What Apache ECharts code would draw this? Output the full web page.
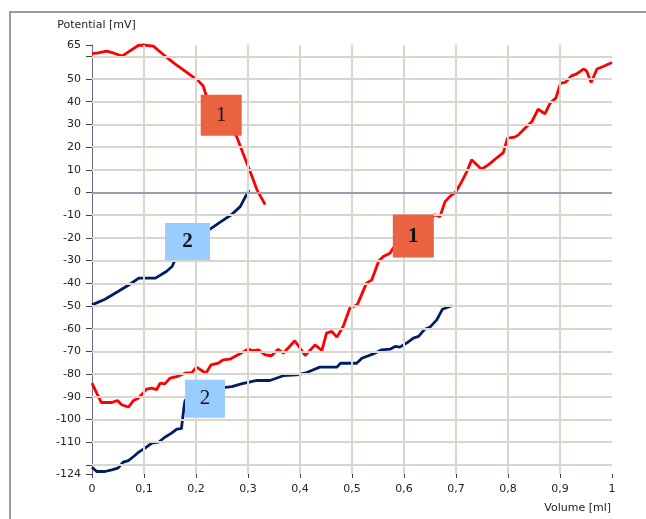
<!DOCTYPE html>
<html>
<head>
<meta charset="utf-8">
<title>Potential vs Volume</title>
<script src="https://cdn.jsdelivr.net/npm/echarts@6/dist/echarts.min.js"></script>
<style>
  html, body { margin: 0; padding: 0; background: #ffffff; }
  #chart { width: 646px; height: 519px; }
</style>
</head>
<body>
<div id="chart"></div>
<script>
// Titration curves: potential [mV] against added volume [ml]

// Axis ticks
const xTicks = [0, 0.1, 0.2, 0.3, 0.4, 0.5, 0.6, 0.7, 0.8, 0.9, 1];
const yTickValues = [-124, -120, -110, -100, -90, -80, -70, -60, -50, -40, -30, -20, -10, 0, 10, 20, 30, 40, 50, 60, 65];
const yLabelValues = [-124, -110, -100, -90, -80, -70, -60, -50, -40, -30, -20, -10, 0, 10, 20, 30, 40, 50, 65];
const yGridValues = [-120, -110, -100, -90, -80, -70, -60, -50, -40, -30, -20, -10, 10, 20, 30, 40, 50, 60];
const xGridValues = [0.1, 0.2, 0.3, 0.4, 0.5, 0.6, 0.7, 0.8, 0.9];

// Curve 1, upper run (red)
const red1X = [0, 0.012, 0.028, 0.041, 0.058, 0.07, 0.089, 0.099, 0.118, 0.137, 0.157, 0.179, 0.204, 0.214, 0.219, 0.245, 0.278, 0.29, 0.304, 0.317, 0.333];
const red1Y = [61.2, 61.5, 62.3, 61.5, 60.1, 62, 64.8, 65, 64.5, 60.8, 57.1, 53.5, 49.3, 46.9, 43.2, 33, 24.8, 17.5, 9.4, 1.3, -5.3];

// Curve 2, upper run (navy)
const blue1X = [0, 0.025, 0.05, 0.073, 0.09, 0.122, 0.143, 0.154, 0.16, 0.19, 0.227, 0.248, 0.268, 0.285, 0.302];
const blue1Y = [-49.5, -47, -43.6, -40.4, -37.7, -37.7, -34.8, -32.6, -29.6, -22, -16.1, -12.8, -9.8, -6.2, 1.2];

// Curve 1, lower run (red)
const red2X = [0, 0.009, 0.018, 0.038, 0.049, 0.057, 0.07, 0.08, 0.089, 0.105, 0.115, 0.124, 0.131, 0.14, 0.15, 0.163, 0.179, 0.192, 0.201, 0.211, 0.219, 0.229, 0.243, 0.252, 0.265, 0.281, 0.3, 0.31, 0.32, 0.333, 0.345, 0.358, 0.368, 0.39, 0.41, 0.429, 0.442, 0.451, 0.461, 0.471, 0.483, 0.496, 0.51, 0.528, 0.538, 0.551, 0.56, 0.573, 0.579, 0.61, 0.66, 0.669, 0.679, 0.688, 0.7, 0.711, 0.721, 0.73, 0.749, 0.762, 0.778, 0.791, 0.799, 0.813, 0.82, 0.833, 0.846, 0.858, 0.871, 0.881, 0.892, 0.901, 0.91, 0.922, 0.932, 0.945, 0.951, 0.96, 0.971, 0.983, 1];
const red2Y = [-84, -88.4, -92.5, -92.5, -91.6, -93.5, -94.5, -91.6, -90.6, -86.6, -86.2, -86.9, -84, -84.3, -81.8, -81.1, -79.6, -79.3, -76.9, -78.4, -79.6, -75.9, -75.2, -73.7, -73.4, -71.5, -69, -69.7, -69.3, -71.5, -71.9, -69.1, -70.8, -65.3, -71.8, -67.1, -69.6, -61.9, -61.2, -63.7, -59, -50.9, -49.5, -39.9, -38.5, -30.4, -28.2, -26.7, -24.5, -17, -9.8, -10.7, -4, -1.8, 0.4, 4.8, 9.3, 14.4, 10.3, 12.2, 15.2, 17.6, 24, 24.4, 25.4, 28.4, 31.3, 36.7, 34.7, 39.4, 41.6, 48.2, 48.5, 51.4, 52.3, 54.4, 53.7, 48.5, 54.4, 55.5, 57.3];

// Curve 2, lower run (navy)
const blue2X = [0, 0.009, 0.025, 0.038, 0.05, 0.06, 0.07, 0.08, 0.089, 0.102, 0.115, 0.128, 0.14, 0.153, 0.163, 0.172, 0.177, 0.179, 0.2, 0.256, 0.269, 0.287, 0.3, 0.317, 0.342, 0.368, 0.394, 0.413, 0.438, 0.471, 0.478, 0.509, 0.519, 0.541, 0.557, 0.573, 0.583, 0.592, 0.605, 0.618, 0.628, 0.64, 0.65, 0.663, 0.674, 0.692];
const blue2Y = [-121, -122.9, -122.9, -122.2, -121.4, -118.8, -118.1, -116.3, -114.5, -112.6, -110.4, -110, -107.8, -106, -104.2, -104, -94.3, -91.6, -87, -85.8, -85.5, -84.3, -83.6, -82.8, -82.8, -80.7, -80.3, -79.3, -76.9, -76.9, -75.2, -75.2, -73, -71.1, -69.3, -69, -67.8, -68.1, -66.3, -64.1, -63.4, -60.2, -59.3, -56.1, -51.4, -49.9];

// Numbered tags placed next to each run
const tagText = ['1', '2', '1', '2'];
const tagX = [0.2485, 0.1837, 0.6179, 0.2173];
const tagY = [34.1, -21.6, -19.2, -90.9];

const zip = (xs, ys) => xs.map((x, i) => [x, ys[i]]);

const RED = '#ff0000';
const NAVY = '#001e62';
const ORANGE = '#eb6240';
const SKY = '#99ccff';
const tagStyle = [
  { color: ORANGE, size: [41, 41], bold: false },
  { color: SKY, size: [45, 37], bold: true },
  { color: ORANGE, size: [41, 43], bold: true },
  { color: SKY, size: [40, 38], bold: false }
];

const font = 'DejaVu Sans';

const chart = echarts.init(document.getElementById('chart'), null, { renderer: 'canvas' });

const option = {
  backgroundColor: '#ffffff',
  animation: false,
  grid: { left: 92, right: 34, top: 45, bottom: 45, containLabel: false },
  graphic: [{
    type: 'polyline',
    shape: { points: [[10, 519], [10, 12], [646, 12]] },
    style: { stroke: '#9a9a9a', lineWidth: 2, fill: null },
    silent: true,
    z: 0
  }],
  xAxis: {
    type: 'value',
    min: 0,
    max: 1,
    interval: 0.1,
    name: 'Volume [ml]',
    nameLocation: 'end',
    nameGap: -1,
    nameTextStyle: { fontFamily: font, fontSize: 11, color: '#222', align: 'right', verticalAlign: 'top', padding: [29, 0, 0, 0] },
    axisLine: { show: false, onZero: false },
    axisTick: { show: true, length: 4, lineStyle: { color: '#444', width: 1 } },
    axisLabel: {
      fontFamily: font, fontSize: 11, color: '#222', margin: 10,
      formatter: v => String(Math.round(v * 10) / 10).replace('.', ',')
    },
    splitLine: { show: false }
  },
  yAxis: {
    type: 'value',
    min: -124,
    max: 65,
    name: 'Potential [mV]',
    nameLocation: 'end',
    nameGap: 14,
    nameTextStyle: { fontFamily: font, fontSize: 11, color: '#222', align: 'center', padding: [0, 0, 0, 9] },
    axisLine: { show: true, onZero: false, lineStyle: { color: '#6b6b8c', width: 1 } },
    axisTick: { show: true, length: 6, customValues: yTickValues, lineStyle: { color: '#444', width: 1 } },
    axisLabel: { fontFamily: font, fontSize: 11, color: '#222', margin: 11, customValues: yLabelValues },
    splitLine: { show: false }
  },
  series: [
    {
      // grid lines, carried by an invisible anchor point
      type: 'line',
      data: [[0, 0]],
      showSymbol: false,
      symbol: 'none',
      lineStyle: { opacity: 0 },
      silent: true,
      z: 1,
      markLine: {
        silent: true,
        symbol: ['none', 'none'],
        label: { show: false },
        animation: false,
        lineStyle: { color: '#d9d6cf', width: 2, type: 'solid' },
        data: yGridValues.map(v => ({ yAxis: v }))
          .concat(xGridValues.map(v => ({ xAxis: v })))
          .concat([{ yAxis: 0, lineStyle: { color: '#9c9cb0', width: 2, type: 'solid' } }])
      }
    },
    {
      type: 'line', data: zip(red1X, red1Y), showSymbol: false, clip: false, z: 3,
      lineStyle: { color: RED, width: 2.8 }, itemStyle: { color: RED }
    },
    {
      type: 'line', data: zip(blue1X, blue1Y), showSymbol: false, clip: false, z: 3,
      lineStyle: { color: NAVY, width: 2.8 }, itemStyle: { color: NAVY }
    },
    {
      type: 'line', data: zip(red2X, red2Y), showSymbol: false, clip: false, z: 3,
      lineStyle: { color: RED, width: 2.8 }, itemStyle: { color: RED }
    },
    {
      type: 'line', data: zip(blue2X, blue2Y), showSymbol: false, clip: false, z: 3,
      lineStyle: { color: NAVY, width: 2.8 }, itemStyle: { color: NAVY }
    },
    {
      type: 'scatter',
      z: 6,
      silent: true,
      data: tagText.map((t, i) => ({
        value: [tagX[i], tagY[i]],
        symbol: 'rect',
        symbolSize: tagStyle[i].size,
        itemStyle: { color: tagStyle[i].color, opacity: 1 },
        label: {
          show: true, position: 'inside', formatter: t,
          fontFamily: 'Liberation Serif', fontSize: 21,
          fontWeight: tagStyle[i].bold ? 'bold' : 'normal', color: '#111'
        }
      }))
    }
  ]
};

chart.setOption(option);
</script>
</body>
</html>
